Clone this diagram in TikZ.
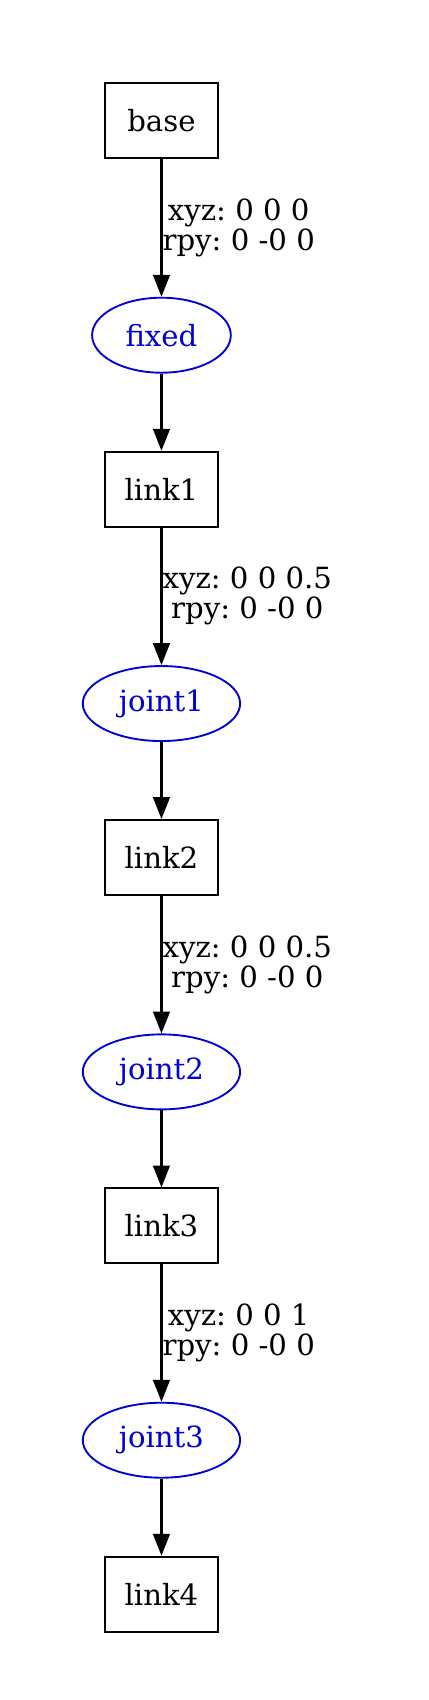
\documentclass[tikz,border=0pt]{standalone}
\usepackage{fontspec}
\setmainfont{DejaVu Serif}
\frenchspacing
\usetikzlibrary{positioning,arrows.meta,shapes.geometric}

\begin{document}
\begin{tikzpicture}[
  font=\fontsize{14pt}{14.4pt}\selectfont,
  link/.style = {
    rectangle, draw=black, line width=0.9pt,
    minimum width=54pt, minimum height=36pt, inner sep=0pt,
  },
  joint/.style = {
    ellipse, draw=blue!85!black, text=blue!85!black, line width=0.9pt,
    minimum height=36pt, inner xsep=6.3pt, inner ysep=0pt,
  },
  arrow/.style = {-{Triangle[length=10.5pt,width=8pt]}, line width=1.1pt, draw=black},
  origin/.style = {midway, anchor=west, inner sep=0pt, align=center},
  node distance=37pt,
]
  \useasboundingbox (0,0) rectangle (205.92pt,-816pt);

  \node[link] at (77.5pt,-58pt)    (base)   {base};
  \node[joint, below=66pt of base]  (fixed)  {fixed};
  \node[link,  below=of fixed]      (link1)  {link1};
  \node[joint, below=66pt of link1] (joint1) {joint1};
  \node[link,  below=of joint1]     (link2)  {link2};
  \node[joint, below=66pt of link2] (joint2) {joint2};
  \node[link,  below=of joint2]     (link3)  {link3};
  \node[joint, below=66pt of link3] (joint3) {joint3};
  \node[link,  below=of joint3]     (link4)  {link4};

  \draw[arrow] (base)   -- node[origin] {xyz: 0 0 0\\rpy: 0 -0 0} (fixed);
  \draw[arrow] (fixed)  -- (link1);
  \draw[arrow] (link1)  -- node[origin] {xyz: 0 0 0.5\\rpy: 0 -0 0} (joint1);
  \draw[arrow] (joint1) -- (link2);
  \draw[arrow] (link2)  -- node[origin] {xyz: 0 0 0.5\\rpy: 0 -0 0} (joint2);
  \draw[arrow] (joint2) -- (link3);
  \draw[arrow] (link3)  -- node[origin] {xyz: 0 0 1\\rpy: 0 -0 0} (joint3);
  \draw[arrow] (joint3) -- (link4);
\end{tikzpicture}
\end{document}
